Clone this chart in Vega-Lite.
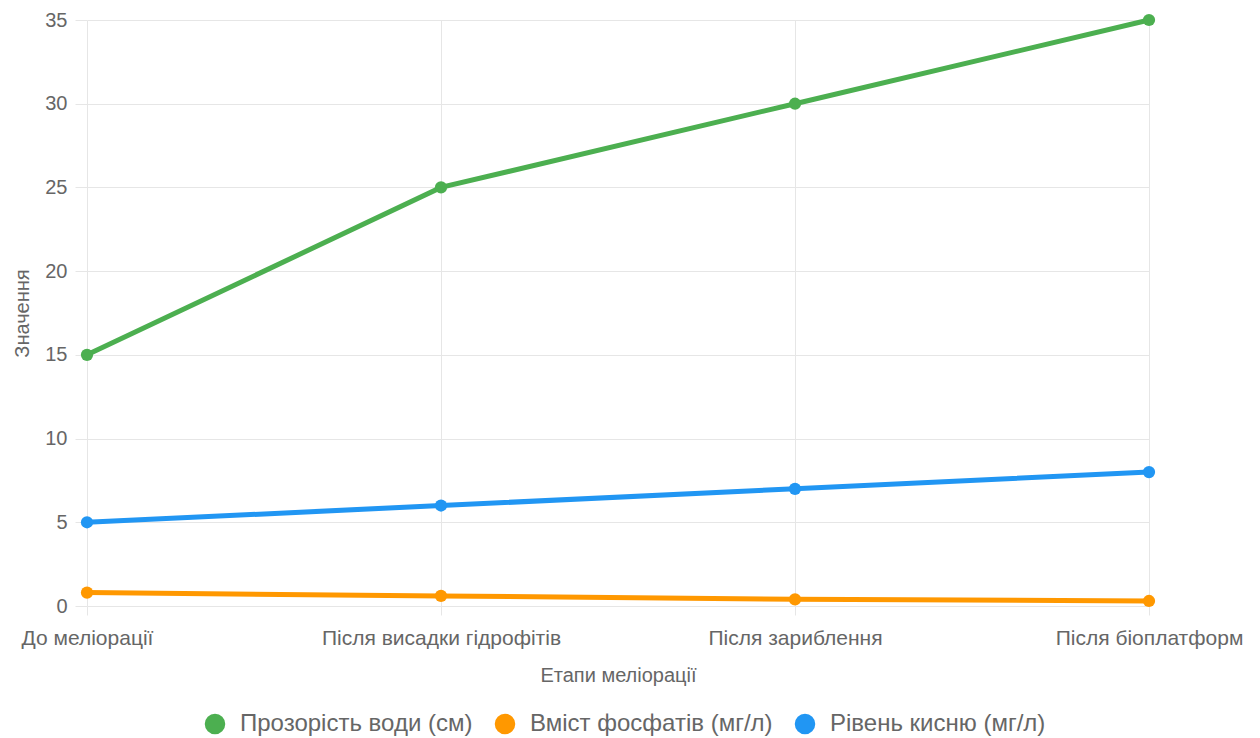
{
  "$schema": "https://vega.github.io/schema/vega-lite/v6.json",
  "width": 1062,
  "height": 586,
  "autosize": {"type": "none"},
  "padding": {"left": 87, "top": 20, "right": 111, "bottom": 132},
  "background": "white",
  "config": {
    "font": "Liberation Sans",
    "view": {"stroke": null},
    "axis": {
      "grid": true,
      "gridColor": "#e6e6e6",
      "gridWidth": 1,
      "domainColor": "#d9d9d9",
      "tickColor": "#e6e6e6",
      "labelColor": "#666666",
      "titleColor": "#666666",
      "labelFontSize": 20,
      "titleFontSize": 20,
      "titleFontWeight": "normal",
      "labelLimit": 0
    }
  },
  "data": {
    "values": [
      {"stage": "До меліорації", "series": "Прозорість води (см)", "value": 15},
      {"stage": "Після висадки гідрофітів", "series": "Прозорість води (см)", "value": 25},
      {"stage": "Після зариблення", "series": "Прозорість води (см)", "value": 30},
      {"stage": "Після біоплатформ", "series": "Прозорість води (см)", "value": 35},
      {"stage": "До меліорації", "series": "Вміст фосфатів (мг/л)", "value": 0.8},
      {"stage": "Після висадки гідрофітів", "series": "Вміст фосфатів (мг/л)", "value": 0.6},
      {"stage": "Після зариблення", "series": "Вміст фосфатів (мг/л)", "value": 0.4},
      {"stage": "Після біоплатформ", "series": "Вміст фосфатів (мг/л)", "value": 0.3},
      {"stage": "До меліорації", "series": "Рівень кисню (мг/л)", "value": 5},
      {"stage": "Після висадки гідрофітів", "series": "Рівень кисню (мг/л)", "value": 6},
      {"stage": "Після зариблення", "series": "Рівень кисню (мг/л)", "value": 7},
      {"stage": "Після біоплатформ", "series": "Рівень кисню (мг/л)", "value": 8}
    ]
  },
  "encoding": {
    "x": {
      "field": "stage",
      "type": "ordinal",
      "sort": null,
      "scale": {"type": "point", "padding": 0},
      "axis": {
        "title": "Етапи меліорації",
        "labelAngle": 0,
        "labelFontSize": 21,
        "grid": true,
        "tickSize": 9,
        "labelPadding": 12,
        "titlePadding": 17,
        "domain": false
      }
    },
    "y": {
      "field": "value",
      "type": "quantitative",
      "scale": {"domain": [0, 35], "nice": false},
      "axis": {
        "title": "Значення",
        "values": [0, 5, 10, 15, 20, 25, 30, 35],
        "tickSize": 12,
        "labelPadding": 8,
        "titlePadding": 12,
        "domain": false
      }
    },
    "color": {
      "field": "series",
      "type": "nominal",
      "scale": {
        "domain": ["Прозорість води (см)", "Вміст фосфатів (мг/л)", "Рівень кисню (мг/л)"],
        "range": ["#4CAF50", "#FF9800", "#2196F3"]
      },
      "legend": {
        "title": null,
        "orient": "none",
        "direction": "horizontal",
        "legendX": 116,
        "legendY": 692,
        "symbolType": "circle",
        "symbolSize": 420,
        "symbolStrokeWidth": 0,
        "labelFontSize": 24,
        "labelLimit": 0,
        "labelColor": "#666666",
        "columnPadding": 20,
        "symbolOffset": 0,
        "labelOffset": 13
      }
    }
  },
  "layer": [
    {"mark": {"type": "line", "strokeWidth": 5, "interpolate": "linear"}},
    {"mark": {"type": "point", "filled": true, "opacity": 1, "size": 150}}
  ]
}
